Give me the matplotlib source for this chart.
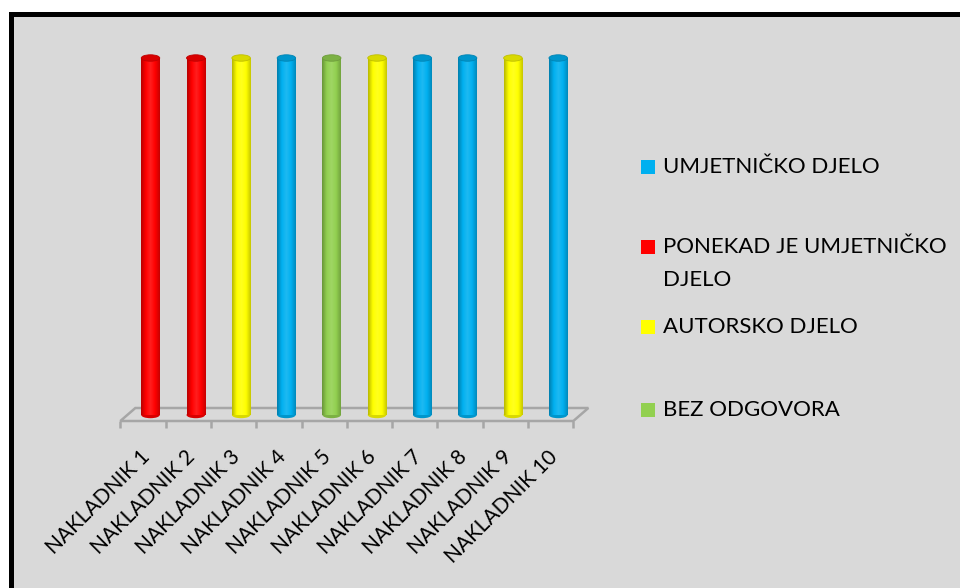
"""
Nakladnici - cylinder bar chart (Excel 3D style) redrawn with matplotlib.
"""

import numpy as np
import matplotlib
matplotlib.use('Agg')
import matplotlib.pyplot as plt
from matplotlib.patches import Rectangle, Ellipse, Polygon
from matplotlib.colors import LinearSegmentedColormap, to_rgb
from pylab import rcParams


publishers = ['NAKLADNIK 1', 'NAKLADNIK 2', 'NAKLADNIK 3', 'NAKLADNIK 4', 'NAKLADNIK 5',
              'NAKLADNIK 6', 'NAKLADNIK 7', 'NAKLADNIK 8', 'NAKLADNIK 9', 'NAKLADNIK 10']

# one series per answer, 1 where the publisher gave that answer
series_names = ['UMJETNIČKO DJELO', 'PONEKAD JE UMJETNIČKO\nDJELO', 'AUTORSKO DJELO', 'BEZ ODGOVORA']
umjetnicko = [0, 0, 0, 1, 0, 0, 1, 1, 0, 1]
ponekad    = [1, 1, 0, 0, 0, 0, 0, 0, 0, 0]
autorsko   = [0, 0, 1, 0, 0, 1, 0, 0, 1, 0]
bez_odg    = [0, 0, 0, 0, 1, 0, 0, 0, 0, 0]
series_vals = [umjetnicko, ponekad, autorsko, bez_odg]
series_cols = ['#00B0F0', '#FF0000', '#FFFF00', '#92D050']

bg = '#D9D9D9'
floor_col = '#A6A6A6'


def shade(c, f):
    r = np.array(to_rgb(c))
    if f < 1:
        return tuple(r * f)
    return tuple(r + (1 - r) * (f - 1))


def cylinder(ax, bar, col):
    x0 = bar.get_x()
    w = bar.get_width()
    h = bar.get_height()
    if h <= 0:
        return
    cmap = LinearSegmentedColormap.from_list('c', [shade(col, 0.72), shade(col, 1.0),
                                                    shade(col, 1.12), shade(col, 1.0),
                                                    shade(col, 0.78)])
    grad = np.linspace(0, 1, 64).reshape(1, -1)
    eh = 0.018
    # bottom cap
    ax.add_patch(Ellipse((x0 + w / 2, 0), w, eh, facecolor=shade(col, 0.85),
                         edgecolor='none', zorder=3))
    im = ax.imshow(grad, cmap=cmap, aspect='auto', extent=[x0, x0 + w, 0, h],
                   zorder=4, interpolation='bilinear')
    im.set_clip_path(bar)
    # top cap
    ax.add_patch(Ellipse((x0 + w / 2, h), w, eh, facecolor=shade(col, 0.85),
                         edgecolor=shade(col, 0.75), linewidth=0.6, zorder=5))


rcParams['font.family'] = ['Lato', 'DejaVu Sans']

fig = plt.figure(figsize=(9.6, 5.88), dpi=100)
fig.patch.set_facecolor('white')

W, H = 960., 588.
# black frame with gray fill, running off the right and bottom edge
fig.add_artist(Rectangle((10.8 / W, -0.05), 1.1, (H - 13.5) / H + 0.05,
                         transform=fig.transFigure, facecolor=bg,
                         edgecolor='black', linewidth=3.6, zorder=0))

# axes area in pixels
px_l, px_r, px_t, px_b = 100., 620., 40., 440.
ax = fig.add_axes([px_l / W, (H - px_b) / H, (px_r - px_l) / W, (px_b - px_t) / H])
ax.set_facecolor('none')
for s in ax.spines.values():
    s.set_visible(False)

x0_px, dx_px = 143., 45.3   # category 0 centre on the floor front, px per category
y0_px, dy_px = 415., 357.   # bar base, px per unit
ax.set_xlim((px_l - x0_px) / dx_px, (px_r - x0_px) / dx_px)
ax.set_ylim(-(px_b - y0_px) / dy_px, (y0_px - px_t) / dy_px)

# 3D floor
yf = -6. / dy_px
ddx, ddy = 15. / dx_px, 13. / dy_px
n = len(publishers)
floor = Polygon([(-0.5, yf), (n - 0.5, yf), (n - 0.5 + ddx, yf + ddy), (-0.5 + ddx, yf + ddy)],
                closed=True, facecolor='none', edgecolor=floor_col, linewidth=1.8, zorder=2)
ax.add_patch(floor)
for k in range(n + 1):
    ax.plot([k - 0.5, k - 0.5], [yf, yf - 7. / dy_px], color=floor_col, lw=1.8,
            zorder=2, solid_capstyle='butt')

# bars
x = np.arange(n)
bar_w = 18.5 / dx_px
bottom = np.zeros(n)
for vals, col in zip(series_vals, series_cols):
    bars = ax.bar(x + ddx / 2, vals, width=bar_w, bottom=bottom, color=col,
                  edgecolor='none', zorder=3)
    for b in bars:
        cylinder(ax, b, col)
    bottom += np.array(vals)

ax.set_xticks(x + 0.08)
ax.set_xticklabels(publishers, rotation=45, ha='right', va='center',
                   rotation_mode='anchor', fontsize=15, color='black')
ax.tick_params(axis='x', length=0, pad=10)
ax.set_yticks([])

# legend, drawn by hand to match Excel's wrapped entry
leg_y = [167., 247., 327., 409.5]
line_h = 33.
for name, col, yy in zip(series_names, series_cols, leg_y):
    fig.add_artist(Rectangle((641. / W, (H - yy - 7) / H), 14. / W, 14. / H,
                             transform=fig.transFigure, facecolor=col, edgecolor='none'))
    for i, line in enumerate(name.split('\n')):
        fig.text(663. / W, (H - yy - i * line_h) / H, line, fontsize=16, va='center',
                 ha='left', transform=fig.transFigure)

plt.savefig('out.png', dpi=100)
plt.close()
